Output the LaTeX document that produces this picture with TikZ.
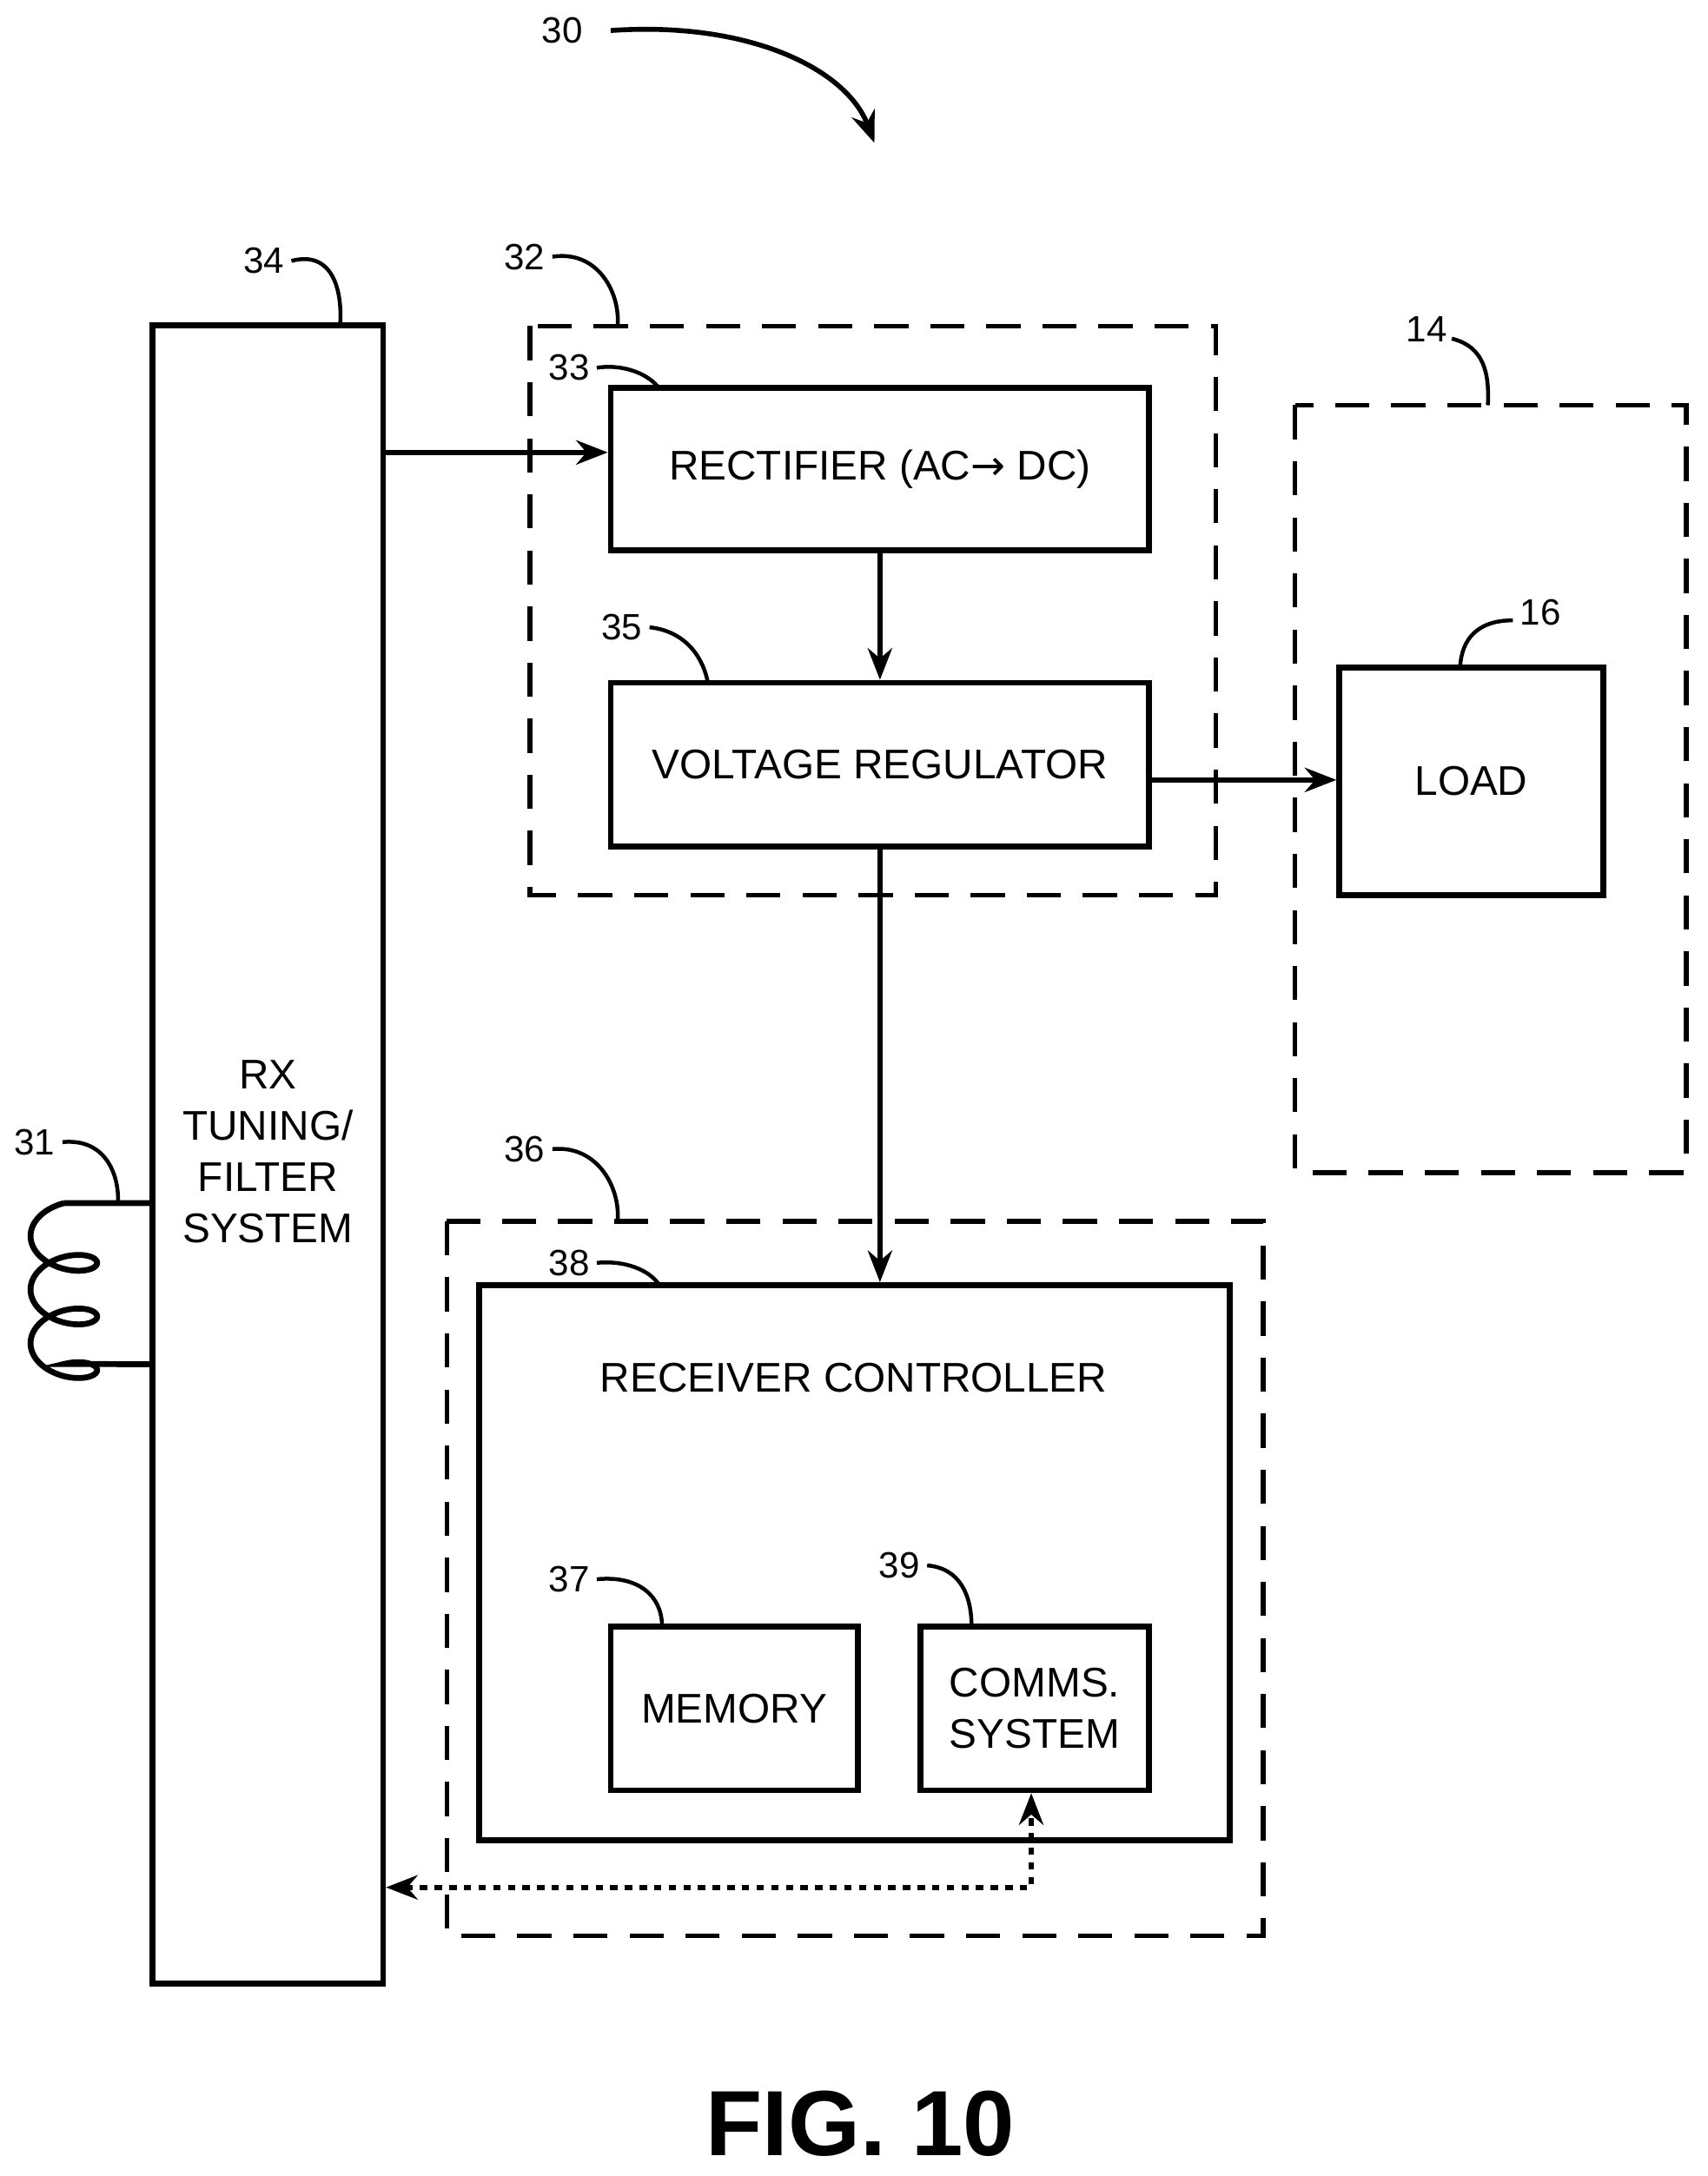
\documentclass[tikz,border=0pt]{standalone}
\usepackage{fontspec}
\setmainfont{Liberation Sans}
\newfontfamily\symfont{DejaVu Sans}
\usetikzlibrary{arrows.meta}

\tikzset{
	blk/.style={draw=black,line width=2.4pt,inner sep=0pt},
	grp/.style={draw=black,line width=2pt,dash pattern=on 14pt off 9pt},
	lead/.style={line width=1.6pt},
	arr/.style={line width=2pt,-{Stealth[length=13pt,width=10pt]}},
	num/.style={font=\fontsize{15}{18}\selectfont},
	txt/.style={font=\fontsize{17}{21}\selectfont,align=center}
}

\begin{document}
\begin{tikzpicture}[x=0.02cm,y=-0.02cm]
	\useasboundingbox (0,0) rectangle (1230,1568);

	% blocks
	\node[blk,minimum width=3.32cm,minimum height=23.9cm] (rx) at (193,832) {};
	\node[txt] at (193,830) {RX\\TUNING/\\FILTER\\SYSTEM};
	\node[blk,minimum width=7.76cm,minimum height=2.34cm,txt] (rect) at (634,338) {RECTIFIER (AC{\symfont→} DC)};
	\node[blk,minimum width=7.76cm,minimum height=2.36cm,txt] (vreg) at (634,551) {VOLTAGE REGULATOR};
	\node[blk,minimum width=3.8cm,minimum height=3.28cm,txt] (load) at (1060,563) {LOAD};
	\node[blk,minimum width=10.82cm,minimum height=8cm] (rc) at (615.5,1126) {};
	\node[txt] at (615,993) {RECEIVER CONTROLLER};
	\node[blk,minimum width=3.56cm,minimum height=2.36cm,txt] (mem) at (529,1231) {MEMORY};
	\node[blk,minimum width=3.3cm,minimum height=2.36cm,txt] (comms) at (745.5,1231) {COMMS.\\SYSTEM};

	% dashed groups
	\draw[grp] (382,235) rectangle (876,645);
	\draw[grp] (933,292) rectangle (1215,845);
	\draw[grp] (322,880) rectangle (910,1395);

	% connectors
	\draw[arr] (rx.east |- 0,326) -- (rect.west |- 0,326);
	\draw[arr] (rect.south) -- (vreg.north);
	\draw[arr] (vreg.east |- 0,562) -- (load.west |- 0,562);
	\draw[arr] (vreg.south) -- (rc.north -| vreg.south);
	\coordinate (bend) at (743,1360);
	\draw[line width=2pt,dash pattern=on 3pt off 3pt,{Stealth[length=13pt,width=10pt]}-{Stealth[length=13pt,width=10pt]}]
		(rx.east |- bend) -- (bend) -- (comms.south -| bend);

	% coil
	\draw[line width=2.4pt] (rx.west |- 0,867) -- (46,867)
		plot[domain=1.5708:20.4204,samples=240,smooth] ({46+24*cos(\x r)},{867+6.15*(\x-1.5708)-14*(sin(\x r)-1)})
		-- (rx.west |- 0,983);

	% reference numbers
	\node[num] at (405,22) {30};
	\draw[line width=2pt,-{Stealth[length=13pt,width=10pt]}] (440,22) .. controls (540,15) and (610,50) .. (630,103);
	\node[num] at (190,188) {34};
	\draw[lead] (210,188) .. controls (240,180) and (247,210) .. (245,235);
	\node[num] at (378,185) {32};
	\draw[lead] (398,185) .. controls (430,180) and (447,210) .. (445,235);
	\node[num] at (410,265) {33};
	\draw[lead] (430,265) .. controls (450,262) and (468,270) .. (475,280);
	\node[num] at (448,452) {35};
	\draw[lead] (468,452) .. controls (495,455) and (507,475) .. (510,492);
	\node[num] at (1028,237) {14};
	\draw[lead] (1046,244) .. controls (1070,250) and (1073,270) .. (1072,292);
	\node[num] at (1110,441) {16};
	\draw[lead] (1090,447) .. controls (1065,447) and (1053,460) .. (1052,481);
	\node[num] at (378,828) {36};
	\draw[lead] (398,828) .. controls (430,825) and (447,855) .. (445,880);
	\node[num] at (410,910) {38};
	\draw[lead] (430,910) .. controls (450,908) and (468,915) .. (475,926);
	\node[num] at (410,1138) {37};
	\draw[lead] (430,1138) .. controls (460,1135) and (477,1150) .. (477,1172);
	\node[num] at (648,1128) {39};
	\draw[lead] (668,1128) .. controls (692,1130) and (700,1150) .. (700,1172);
	\node[num] at (25,823) {31};
	\draw[lead] (45,823) .. controls (75,820) and (86,845) .. (85,867);

	\node[font=\bfseries\fontsize{38}{44}\selectfont] at (620,1530) {FIG. 10};
\end{tikzpicture}
\end{document}
